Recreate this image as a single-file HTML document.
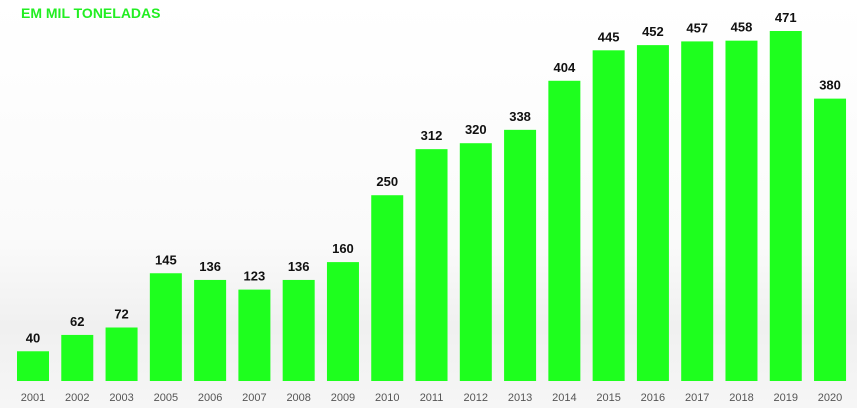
<!DOCTYPE html>
<html><head><meta charset="utf-8"><style>
body{margin:0;width:857px;height:408px;overflow:hidden;font-family:"Liberation Sans",sans-serif;}
#wrap{position:relative;width:857px;height:408px;background:linear-gradient(#ffffff 0%,#fafafa 60%,#f0f0f0 80%,#f6f6f6 100%);}
#title{position:absolute;left:21px;top:5px;font-size:14px;font-weight:bold;color:#22ee22;}
</style></head><body>
<div id="wrap">
<div id="title">EM MIL TONELADAS</div>
<svg id="chart" width="857" height="408" style="position:absolute;left:0;top:0"></svg>
</div>
<script>
const categories=["2001","2002","2003","2005","2006","2007","2008","2009","2010","2011","2012","2013","2014","2015","2016","2017","2018","2019","2020"];
const values=[40,62,72,145,136,123,136,160,250,312,320,338,404,445,452,457,458,471,380];
const svg=document.getElementById('chart');
const NS='http://www.w3.org/2000/svg';
const baseY=381, scale=(381-31)/471, x0=33, step=44.28, bw=32;
const y=v=>baseY-v*scale;
const xc=i=>x0+i*step;
categories.forEach((c,i)=>{
  const r=document.createElementNS(NS,'rect');
  r.setAttribute('x',xc(i)-bw/2);r.setAttribute('y',y(values[i]));
  r.setAttribute('width',bw);r.setAttribute('height',baseY-y(values[i]));
  r.setAttribute('fill','#1eff1e');
  
  
  svg.appendChild(r);
  const t=document.createElementNS(NS,'text');
  t.setAttribute('x',xc(i));t.setAttribute('y',y(values[i])-9);
  t.setAttribute('text-anchor','middle');t.setAttribute('font-size','13');
  t.setAttribute('font-weight','bold');t.setAttribute('fill','#111');
  t.textContent=values[i];
  
  
  svg.appendChild(t);
  const l=document.createElementNS(NS,'text');
  l.setAttribute('x',xc(i));l.setAttribute('y',401);
  l.setAttribute('text-anchor','middle');l.setAttribute('font-size','11');
  l.setAttribute('fill','#555');
  l.textContent=c;
  
  
  svg.appendChild(l);
});
</script>
</body></html>
